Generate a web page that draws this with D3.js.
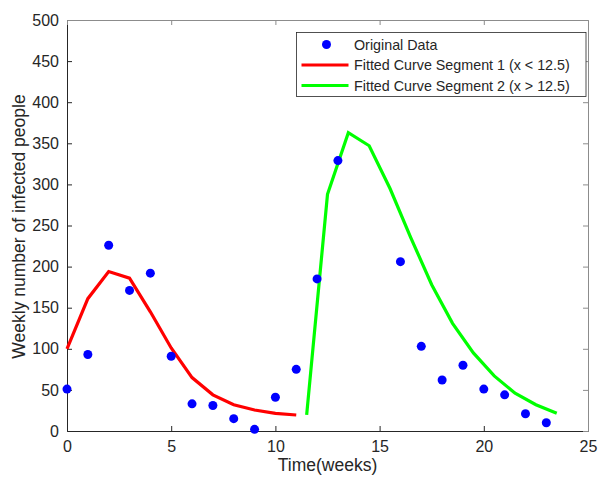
<!DOCTYPE html>
<html lang="en">
<head>
    <meta charset="UTF-8">
    <title>Weekly infected people</title>
    <style>
        body { margin: 0; background: #fff; }
        text { font-family: "Liberation Sans", Arial, sans-serif; fill: #262626; }
    </style>
</head>
<body>
    <svg id="chart" width="598" height="480"></svg>
    <script src="https://d3js.org/d3.v7.min.js"></script>
    <script>
        // original weekly observations
        var weeks = [0, 1, 2, 3, 4, 5, 6, 7, 8, 9, 10, 11, 12, 13, 16, 17, 18, 19, 20, 21, 22, 23];
        var infected = [51, 93, 226, 171, 192, 91, 33, 31, 15, 2, 41, 75, 185, 329, 206, 103, 62, 80, 51, 44, 21, 10];

        // fitted curve, segment 1 (x < 12.5)
        var fit1X = [0, 1, 2, 3, 4, 5, 6, 7, 8, 9, 10, 11];
        var fit1Y = [100, 161, 194, 186, 145, 101, 65, 44, 32, 25.5, 21.5, 19.5];

        // fitted curve, segment 2 (x > 12.5)
        var fit2X = [11.5, 12.5, 13.5, 14.5, 15.5, 16.5, 17.5, 18.5, 19.5, 20.5, 21.5, 22.5, 23.5];
        var fit2Y = [19.5, 288, 363, 347, 295, 235, 178, 131, 95, 67, 46, 32, 21.5];

        var xTicks = [0, 5, 10, 15, 20, 25];
        var yTicks = [0, 50, 100, 150, 200, 250, 300, 350, 400, 450, 500];

        var margin = { top: 20, right: 10, bottom: 49, left: 67 },
            width = 588 - margin.left,
            height = 431 - margin.top;

        var svg = d3.select("#chart")
            .append("g")
            .attr("transform", "translate(" + margin.left + "," + margin.top + ")");

        var x = d3.scaleLinear().domain([0, 25]).range([0, width]);
        var y = d3.scaleLinear().domain([0, 500]).range([height, 0]);

        // box with inward ticks on all four sides
        var axisColor = "#262626";
        var boxColor = "#8c8c8c";

        var axBottom = svg.append("g")
            .attr("transform", "translate(0," + height + ")")
            .call(d3.axisBottom(x).tickValues(xTicks).tickSize(-5).tickPadding(10));
        var axLeft = svg.append("g")
            .call(d3.axisLeft(y).tickValues(yTicks).tickSize(-5).tickPadding(8));
        var axTop = svg.append("g")
            .call(d3.axisTop(x).tickValues(xTicks).tickSize(-5).tickFormat(""));
        var axRight = svg.append("g")
            .attr("transform", "translate(" + width + ",0)")
            .call(d3.axisRight(y).tickValues(yTicks).tickSize(-5).tickFormat(""));

        [axBottom, axLeft].forEach(function(g) {
            g.select(".domain").attr("stroke", axisColor);
            g.selectAll(".tick line").attr("stroke", axisColor);
            g.selectAll(".tick text")
                .style("font-size", "16px")
                .style("font-family", "'Liberation Sans', Arial, sans-serif")
                .attr("fill", axisColor);
        });
        [axTop, axRight].forEach(function(g) {
            g.select(".domain").attr("stroke", boxColor);
            g.selectAll(".tick line").attr("stroke", boxColor);
        });
        // drop the tick marks that sit on the corners
        axBottom.selectAll(".tick line").filter(function(d) { return d === 0 || d === 25; }).remove();
        axTop.selectAll(".tick line").filter(function(d) { return d === 0 || d === 25; }).remove();
        axLeft.selectAll(".tick line").filter(function(d) { return d === 0 || d === 500; }).remove();
        axRight.selectAll(".tick line").filter(function(d) { return d === 0 || d === 500; }).remove();

        var line = d3.line()
            .x(function(d) { return x(d[0]); })
            .y(function(d) { return y(d[1]); });

        svg.append("path")
            .datum(d3.zip(fit1X, fit1Y))
            .attr("d", line)
            .attr("fill", "none")
            .attr("stroke", "#ff0000")
            .attr("stroke-width", 3.2);

        svg.append("path")
            .datum(d3.zip(fit2X, fit2Y))
            .attr("d", line)
            .attr("fill", "none")
            .attr("stroke", "#00ff00")
            .attr("stroke-width", 3.2);

        svg.selectAll(".dot")
            .data(d3.zip(weeks, infected))
            .enter().append("circle")
            .attr("class", "dot")
            .attr("r", 4.5)
            .attr("cx", function(d) { return x(d[0]); })
            .attr("cy", function(d) { return y(d[1]); })
            .attr("fill", "#0000ff");

        // axis labels
        svg.append("text")
            .attr("x", width / 2)
            .attr("y", height + 40)
            .style("text-anchor", "middle")
            .style("font-size", "17.5px")
            .text("Time(weeks)");

        svg.append("text")
            .attr("transform", "rotate(-90)")
            .attr("x", -(226.5 - margin.top))
            .attr("y", -42)
            .style("text-anchor", "middle")
            .style("font-size", "17.5px")
            .text("Weekly number of infected people");

        // legend
        var legend = svg.append("g")
            .attr("transform", "translate(" + (296.5 - margin.left) + "," + (32.5 - margin.top) + ")");

        legend.append("rect")
            .attr("width", 289.5)
            .attr("height", 64)
            .attr("fill", "#fff")
            .attr("stroke", "#262626")
            .attr("stroke-width", 0.8);

        var entries = ["Original Data", "Fitted Curve Segment 1 (x < 12.5)", "Fitted Curve Segment 2 (x > 12.5)"];
        entries.forEach(function(label, i) {
            var ly = 12 + i * 20.5;
            if (i === 0) {
                legend.append("circle").attr("cx", 30).attr("cy", ly).attr("r", 4.5).attr("fill", "#0000ff");
            } else {
                legend.append("line")
                    .attr("x1", 5).attr("x2", 52)
                    .attr("y1", ly).attr("y2", ly)
                    .attr("stroke", i === 1 ? "#ff0000" : "#00ff00")
                    .attr("stroke-width", 3.2);
            }
            legend.append("text")
                .attr("x", 57.5)
                .attr("y", ly)
                .attr("dy", "0.35em")
                .style("font-size", "14.3px")
                .text(label);
        });
    </script>
</body>
</html>
